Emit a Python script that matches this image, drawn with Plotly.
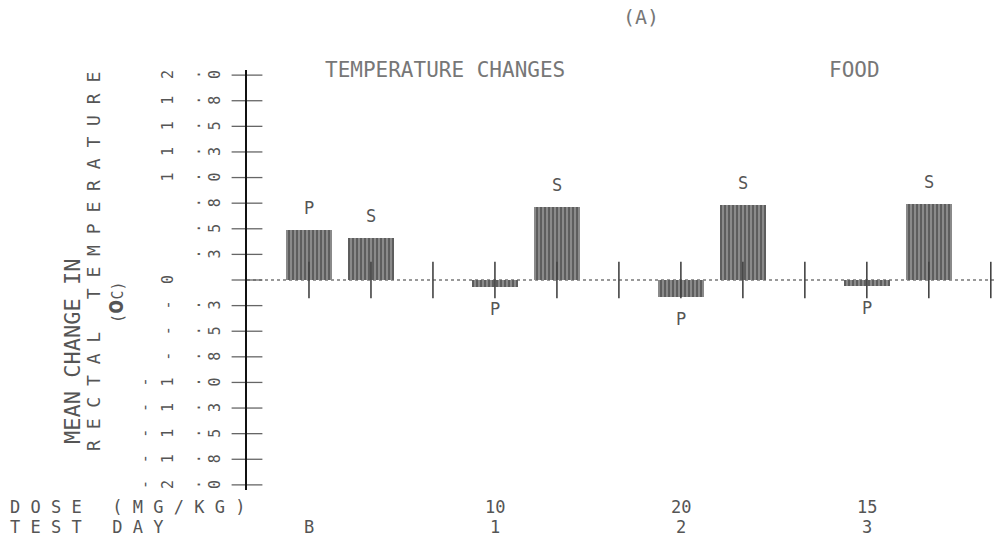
import plotly.graph_objects as go

# ---- data ----
test_days = ["B", "1", "2", "3"]
doses = ["", "10", "20", "15"]
p_values = [0.49, -0.07, -0.17, -0.06]
s_values = [0.41, 0.71, 0.73, 0.74]
y_tick_values = [-2.0, -1.75, -1.5, -1.25, -1.0, -0.75, -0.5, -0.25, 0.0,
                 0.25, 0.5, 0.75, 1.0, 1.25, 1.5, 1.75, 2.0]
y_tick_labels = ["-2.0", "-1.8", "-1.5", "-1.3", "-1.0", "-.8", "-.5", "-.3", "0",
                 ".3", ".5", ".8", "1.0", "1.3", "1.5", "1.8", "2.0"]

# ---- layout geometry ----
W, H = 1000, 551
ML, MR, MT, MB = 247, 3, 70, 61
PW, PH = W - ML - MR, H - MT - MB
FONT = "DejaVu Sans Mono"
TXT = "#555555"


def px2x(px):
    return (px - ML) / PW


def py2y(py):
    return (H - MB - py) / PH


def spaced(s):
    return " ".join(list(s))


def ann(**kw):
    base = dict(showarrow=False, xanchor="center", yanchor="middle")
    base.update(kw)
    return base


p_x = [3 * i + 1 for i in range(len(test_days))]
s_x = [3 * i + 2 for i in range(len(test_days))]
sep_x = [3 * i + 3 for i in range(len(test_days))]

fig = go.Figure()

bar_style = dict(
    color="#7a7a7a",
    line=dict(width=0),
    pattern=dict(shape="|", fgcolor="#262626", bgcolor="#8a8a8a", size=4, solidity=0.45),
)
fig.add_trace(go.Bar(x=p_x, y=p_values, width=0.74, marker=bar_style, showlegend=False))
fig.add_trace(go.Bar(x=s_x, y=s_values, width=0.74, marker=bar_style, showlegend=False))

# ticks crossing the zero line at every position
all_x = sorted(p_x + s_x + sep_x)
fig.add_trace(go.Scatter(
    x=all_x, y=[0] * len(all_x), mode="markers", cliponaxis=False, showlegend=False,
    marker=dict(symbol="line-ns", size=26, line=dict(width=1.6, color="#444")),
))
# y ticks crossing the y axis
fig.add_trace(go.Scatter(
    x=[0] * len(y_tick_values), y=y_tick_values, mode="markers", cliponaxis=False,
    showlegend=False,
    marker=dict(symbol="line-ew", size=22, line=dict(width=1.3, color="#666")),
))

annotations = []

# bar letters
for xs, vals, letter in ((p_x, p_values, "P"), (s_x, s_values, "S")):
    for x, v in zip(xs, vals):
        annotations.append(ann(
            x=x, y=v, xref="x", yref="y", text=letter,
            yshift=22 if v >= 0 else -22,
            font=dict(family=FONT, size=17, color=TXT),
        ))

# y tick labels: individually rotated characters laid out in columns
col_px = [145, 168, 195, 215]
for val, lab in zip(y_tick_values, y_tick_labels):
    off = 2 - lab.index(".") if "." in lab else 2 - len(lab)
    for i, ch in enumerate(lab):
        annotations.append(ann(
            x=px2x(col_px[off + i]), y=val, xref="paper", yref="y", text=ch,
            textangle=-90, font=dict(family=FONT, size=15, color=TXT),
        ))

# y axis title lines
annotations.append(ann(x=px2x(72), y=py2y(352), xref="paper", yref="paper",
                       text="MEAN CHANGE IN", textangle=-90,
                       font=dict(family=FONT, size=22, color=TXT)))
annotations.append(ann(x=px2x(93), y=py2y(262), xref="paper", yref="paper",
                       text=spaced("RECTAL TEMPERATURE"), textangle=-90,
                       font=dict(family=FONT, size=18, color=TXT)))
annotations.append(ann(x=px2x(115), y=py2y(302), xref="paper", yref="paper",
                       text="(<span style='font-size:24px'><b>o</b></span>C)",
                       textangle=-90, font=dict(family=FONT, size=15, color=TXT)))

# titles
annotations.append(ann(x=px2x(641), y=py2y(17), xref="paper", yref="paper", text="(A)",
                       font=dict(family=FONT, size=20, color="#777")))
annotations.append(ann(x=px2x(445), y=py2y(70), xref="paper", yref="paper",
                       text="TEMPERATURE CHANGES",
                       font=dict(family=FONT, size=21, color="#777")))
annotations.append(ann(x=px2x(854), y=py2y(70), xref="paper", yref="paper",
                       text="FOOD", font=dict(family=FONT, size=21, color="#777")))

# bottom rows
ROW1, ROW2 = 507, 527
annotations.append(ann(x=px2x(8), y=py2y(ROW1), xref="paper", yref="paper",
                       text=spaced("DOSE (MG/KG)"), xanchor="left",
                       font=dict(family=FONT, size=17, color=TXT)))
annotations.append(ann(x=px2x(8), y=py2y(ROW2), xref="paper", yref="paper",
                       text=spaced("TEST DAY"), xanchor="left",
                       font=dict(family=FONT, size=17, color=TXT)))
for x, d, t in zip(p_x, doses, test_days):
    if d:
        annotations.append(ann(x=x, y=py2y(ROW1), xref="x", yref="paper", text=d,
                               font=dict(family=FONT, size=17, color=TXT)))
    annotations.append(ann(x=x, y=py2y(ROW2), xref="x", yref="paper", text=t,
                           font=dict(family=FONT, size=17, color=TXT)))

fig.update_layout(
    width=W, height=H,
    margin=dict(l=ML, r=MR, t=MT, b=MB),
    paper_bgcolor="white", plot_bgcolor="white",
    bargap=0, barmode="overlay",
    xaxis=dict(range=[0, 12.1], visible=False, fixedrange=True),
    yaxis=dict(range=[-2.05, 2.05], showgrid=False, zeroline=False,
               showline=True, linecolor="#111", linewidth=2,
               showticklabels=False, ticks="", fixedrange=True),
    shapes=[dict(type="line", xref="paper", yref="y", x0=0, x1=1, y0=0, y1=0,
                 line=dict(color="#999", width=2, dash="dot"), layer="below")],
    annotations=annotations,
    showlegend=False,
)

fig.write_html("out.html")
